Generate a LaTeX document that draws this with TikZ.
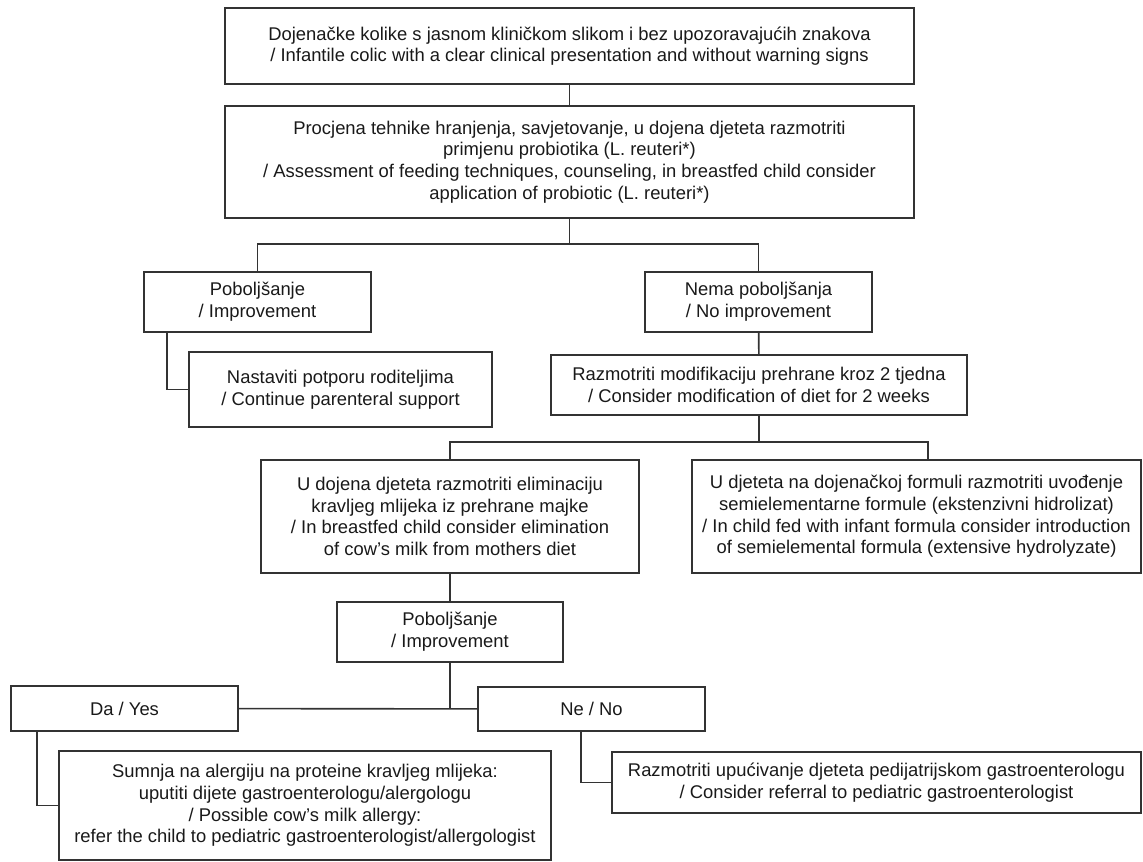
\documentclass[tikz,border=0pt]{standalone}
\usepackage{fontspec}
\setmainfont{Liberation Sans}
\usepackage{tikz}

\begin{document}
\begin{tikzpicture}[x=0.5pt, y=-0.5pt, line width=0.8pt, draw=black!80]
\useasboundingbox (0,0) rectangle (1143,861);
\begin{scope}[every node/.style={draw=black!80, rectangle, align=center, inner sep=0pt, text=black!90, font=\fontsize{9.2}{10.8}\selectfont}]
    \node[minimum width=344.5pt, minimum height=38pt] (b1) at (569.5,46) {Dojenačke kolike s jasnom kliničkom slikom i bez upozoravajućih znakova\\/ Infantile colic with a clear clinical presentation and without warning signs};
    \node[minimum width=344.5pt, minimum height=56pt] (b2) at (569.5,162) {Procjena tehnike hranjenja, savjetovanje, u dojena djeteta razmotriti\\primjenu probiotika (L. reuteri*)\\/ Assessment of feeding techniques, counseling, in breastfed child consider\\application of probiotic (L. reuteri*)};
    \node[minimum width=113.5pt, minimum height=30pt] (p1) at (257.5,302) {Poboljšanje\\/ Improvement};
    \node[minimum width=113.5pt, minimum height=30pt] (n1) at (758.5,302) {Nema poboljšanja\\/ No improvement};
    \node[minimum width=151.5pt, minimum height=37.5pt] (c1) at (340.5,389.5) {Nastaviti potporu roditeljima\\/ Continue parenteral support};
    \node[minimum width=208pt, minimum height=30pt] (m1) at (759,385) {Razmotriti modifikaciju prehrane kroz 2 tjedna\\/ Consider modification of diet for 2 weeks};
    \node[minimum width=189pt, minimum height=56.5pt] (e1) at (450,516.5) {U dojena djeteta razmotriti eliminaciju\\kravljeg mlijeka iz prehrane majke\\/ In breastfed child consider elimination\\of cow’s milk from mothers diet};
    \node[minimum width=224.5pt, minimum height=56.5pt] (e2) at (916.5,516.5) {U djeteta na dojenačkoj formuli razmotriti uvođenje\\semielementarne formule (ekstenzivni hidrolizat)\\/ In child fed with infant formula consider introduction\\of semielemental formula (extensive hydrolyzate)};
    \node[minimum width=113pt, minimum height=30pt] (p2) at (450,632) {Poboljšanje\\/ Improvement};
    \node[minimum width=113.5pt, minimum height=22.5pt] (da) at (124.5,708.5) {Da / Yes};
    \node[minimum width=113.5pt, minimum height=22pt] (ne) at (591.5,709) {Ne / No};
    \node[minimum width=246pt, minimum height=54.5pt] (s1) at (305,805.5) {Sumnja na alergiju na proteine kravljeg mlijeka:\\uputiti dijete gastroenterologu/alergologu\\/ Possible cow’s milk allergy:\\refer the child to pediatric gastroenterologist/allergologist};
    \node[minimum width=264.5pt, minimum height=30.5pt] (r1) at (876.5,782.5) {Razmotriti upućivanje djeteta pedijatrijskom gastroenterologu\\/ Consider referral to pediatric gastroenterologist};
\end{scope}
\coordinate (j1) at (569.5,244);
\coordinate (j2) at (759,442);
\coordinate (k2) at (928,460);
\begin{scope}[every path/.style={draw=black!80}]
    \draw (b1) -- (b2);
    \draw (b2) -- (j1);
    \draw (p1.north) |- (j1) -| (n1.north);
    \draw ([xshift=12pt]p1.south west) |- (c1.west);
    \draw (n1) -- (m1);
    \draw (m1) -- (j2);
    \draw (e1.north) |- (j2) -| (k2);
    \draw (e1) -- (p2);
    \draw (da) -- (ne);
    \draw (p2) -- (p2 |- da.east);
    \draw ([xshift=13.5pt]da.south west) |- (s1.west);
    \draw ([xshift=-5.25pt]ne.south) |- (r1.west);
\end{scope}
\end{tikzpicture}
\end{document}
